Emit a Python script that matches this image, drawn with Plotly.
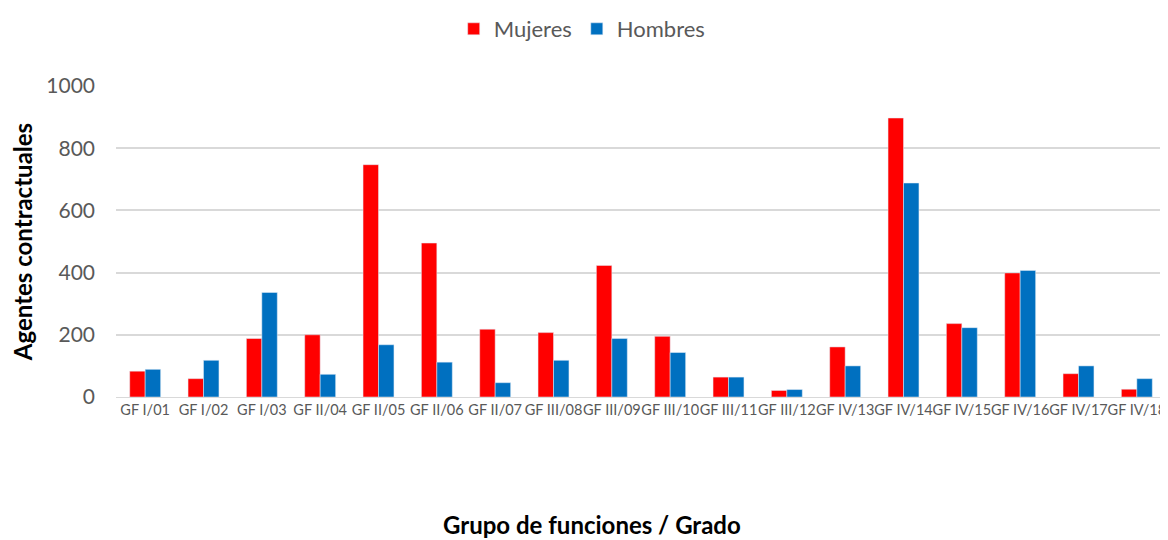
import plotly.graph_objects as go

categories = ["GF I/01", "GF I/02", "GF I/03", "GF II/04", "GF II/05", "GF II/06",
              "GF II/07", "GF III/08", "GF III/09", "GF III/10", "GF III/11", "GF III/12",
              "GF IV/13", "GF IV/14", "GF IV/15", "GF IV/16", "GF IV/17", "GF IV/18"]
mujeres = [83, 59, 188, 200, 747, 495, 218, 207, 423, 195, 64, 21, 161, 897, 236, 399, 75, 25]
hombres = [89, 118, 336, 73, 168, 112, 46, 118, 188, 143, 64, 24, 100, 688, 223, 407, 100, 59]
y_ticks = [0, 200, 400, 600, 800, 1000]

fig = go.Figure()
fig.add_trace(go.Bar(name="Mujeres", x=categories, y=mujeres, marker_color="#FF0000"))
fig.add_trace(go.Bar(name="Hombres", x=categories, y=hombres, marker_color="#0070C0"))

fig.update_layout(
    width=1160, height=532,
    margin=dict(l=108, r=2, t=78, b=143),
    paper_bgcolor="white", plot_bgcolor="white",
    barmode="group", bargap=0.47, bargroupgap=0,
    font=dict(family="Lato, Open Sans, sans-serif", color="#595959"),
    legend=dict(orientation="h", xref="container", x=0.495, xanchor="center",
                yref="container", y=1.0, yanchor="top",
                font=dict(size=22, color="#595959"), traceorder="normal"),
    annotations=[dict(text="<b>Grupo de funciones / Grado</b>", xref="paper", yref="paper",
                      x=0.453, y=-0.41, xanchor="center", yanchor="middle",
                      showarrow=False, font=dict(size=24, color="black"))],
)
fig.update_xaxes(
    tickfont=dict(size=14.5, color="#595959"), tickangle=0,
    showgrid=False, showline=True, linecolor="#d9d9d9",
)
fig.update_yaxes(
    range=[0, 1000], tickvals=y_ticks,
    tickfont=dict(size=21, color="#595959"),
    showgrid=True, gridcolor="#d9d9d9", gridwidth=1.5, zeroline=False,
    ticklabelstandoff=20,
    title=dict(text="<b>Agentes contractuales</b>", standoff=8,
               font=dict(size=24, color="black")),
)

fig.write_html("out.html")
